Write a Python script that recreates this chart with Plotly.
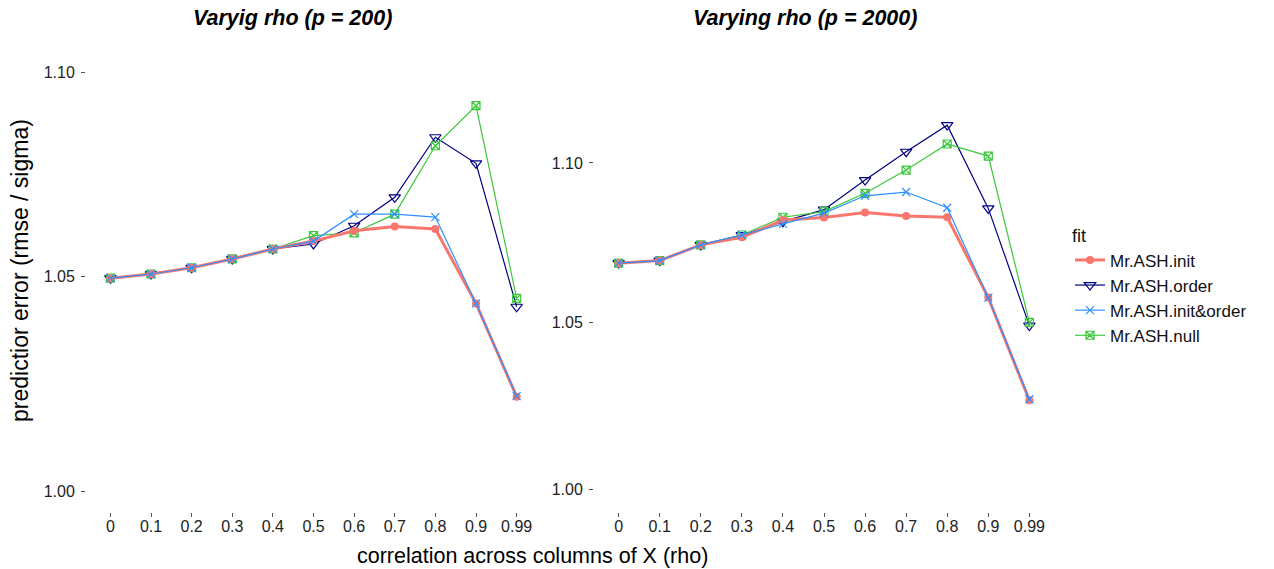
import plotly.graph_objects as go

W, H = 1274, 569

rho = ["0", "0.1", "0.2", "0.3", "0.4", "0.5", "0.6", "0.7", "0.8", "0.9", "0.99"]

# p = 200
init_200 = [1.0496, 1.0506, 1.0521, 1.0542, 1.0566, 1.0585, 1.0610, 1.0620, 1.0614, 1.0436, 1.0217]
order_200 = [1.0496, 1.0506, 1.0521, 1.0542, 1.0566, 1.0578, 1.0622, 1.0691, 1.0838, 1.0774, 1.0428]
initorder_200 = [1.0496, 1.0506, 1.0521, 1.0542, 1.0566, 1.0585, 1.0650, 1.0650, 1.0643, 1.0436, 1.0218]
null_200 = [1.0496, 1.0506, 1.0521, 1.0542, 1.0566, 1.0598, 1.0605, 1.0650, 1.0817, 1.0916, 1.0448]

# p = 2000
init_2000 = [1.0683, 1.0691, 1.0740, 1.0764, 1.0818, 1.0826, 1.0842, 1.0831, 1.0827, 1.0576, 1.0264]
order_2000 = [1.0683, 1.0691, 1.0740, 1.0771, 1.0813, 1.0851, 1.0945, 1.1036, 1.1122, 1.0855, 1.0490]
initorder_2000 = [1.0683, 1.0691, 1.0740, 1.0771, 1.0806, 1.0840, 1.0895, 1.0907, 1.0857, 1.0576, 1.0267]
null_2000 = [1.0683, 1.0691, 1.0740, 1.0771, 1.0827, 1.0845, 1.0903, 1.0977, 1.1061, 1.1022, 1.0500]

y_ticks = [1.00, 1.05, 1.10]
y_ticktext = ["1.00", "1.05", "1.10"]

FONT = "Liberation Sans, Arial, Helvetica, sans-serif"

styles = {
    "Mr.ASH.order": dict(color="#000080", symbol="triangle-down-open", size=10, lw=1.2),
    "Mr.ASH.null": dict(color="#3CC83C", symbol="square-x-open", size=8, lw=1.2),
    "Mr.ASH.init": dict(color="#F8766D", symbol="circle", size=8, lw=3),
    "Mr.ASH.init&order": dict(color="#2F8FFF", symbol="x-thin-open", size=8, lw=1.2),
}
legend_rank = {"Mr.ASH.init": 1, "Mr.ASH.order": 2, "Mr.ASH.init&order": 3, "Mr.ASH.null": 4}

panels = [
    ("x", "y", {"Mr.ASH.order": order_200, "Mr.ASH.null": null_200,
                "Mr.ASH.init": init_200, "Mr.ASH.init&order": initorder_200}),
    ("x2", "y2", {"Mr.ASH.order": order_2000, "Mr.ASH.null": null_2000,
                  "Mr.ASH.init": init_2000, "Mr.ASH.init&order": initorder_2000}),
]

fig = go.Figure()
for i, (xa, ya, series) in enumerate(panels):
    for name in ["Mr.ASH.order", "Mr.ASH.null", "Mr.ASH.init", "Mr.ASH.init&order"]:
        s = styles[name]
        mk = dict(symbol=s["symbol"], size=s["size"], color=s["color"])
        if "open" in s["symbol"]:
            mk["line"] = dict(color=s["color"], width=1.2)
        fig.add_trace(go.Scatter(
            x=rho, y=series[name], xaxis=xa, yaxis=ya, name=name,
            mode="lines+markers", line=dict(color=s["color"], width=s["lw"]),
            marker=mk, showlegend=(i == 0), legendrank=legend_rank[name],
        ))

def px_x(p):
    return p / W

def px_y(p):
    return 1 - p / H

yd = [px_y(512), px_y(51)]
axis_common = dict(showgrid=False, zeroline=False, showline=False, ticks="outside",
                   ticklen=4, tickwidth=1, tickcolor="#555555",
                   tickfont=dict(family=FONT, size=16, color="#222222"))

fig.update_layout(
    width=W, height=H, margin=dict(l=0, r=0, t=0, b=0),
    paper_bgcolor="white", plot_bgcolor="white",
    xaxis=dict(domain=[px_x(86), px_x(541)], type="category", range=[-0.6, 10.6],
               anchor="y", ticklabelstandoff=-4, **axis_common),
    yaxis=dict(domain=yd, type="log", range=[-0.002075, 0.04347], anchor="x",
               tickvals=y_ticks, ticktext=y_ticktext, ticklabelstandoff=3, **axis_common),
    xaxis2=dict(domain=[px_x(594), px_x(1054)], type="category", range=[-0.6, 10.6],
                anchor="y2", ticklabelstandoff=-4, **axis_common),
    yaxis2=dict(domain=yd, type="log", range=[-0.00285, 0.05558], anchor="x2",
                tickvals=y_ticks, ticktext=y_ticktext, ticklabelstandoff=3, **axis_common),
    legend=dict(x=px_x(1070), y=px_y(286), xanchor="left", yanchor="middle",
                title=dict(text="fit", font=dict(family=FONT, size=18, color="#111111")),
                font=dict(family=FONT, size=17, color="#111111"),
                tracegroupgap=0, itemwidth=30, bgcolor="rgba(0,0,0,0)"),
    annotations=[
        dict(text="<b><i>Varyig rho (p = 200)</i></b>", x=px_x(292), y=px_y(18),
             xref="paper", yref="paper", xanchor="center", yanchor="middle",
             showarrow=False, font=dict(family=FONT, size=21.5, color="black")),
        dict(text="<b><i>Varying rho (p = 2000)</i></b>", x=px_x(805), y=px_y(18),
             xref="paper", yref="paper", xanchor="center", yanchor="middle",
             showarrow=False, font=dict(family=FONT, size=21.5, color="black")),
        dict(text="predictior error (rmse / sigma)", x=px_x(20), y=px_y(271),
             xref="paper", yref="paper", xanchor="center", yanchor="middle",
             showarrow=False, textangle=-90,
             font=dict(family=FONT, size=23, color="black")),
        dict(text="correlation across columns of X (rho)", x=px_x(532), y=px_y(556),
             xref="paper", yref="paper", xanchor="center", yanchor="middle",
             showarrow=False, font=dict(family=FONT, size=21.5, color="black")),
    ],
)

fig.write_html("out.html")
